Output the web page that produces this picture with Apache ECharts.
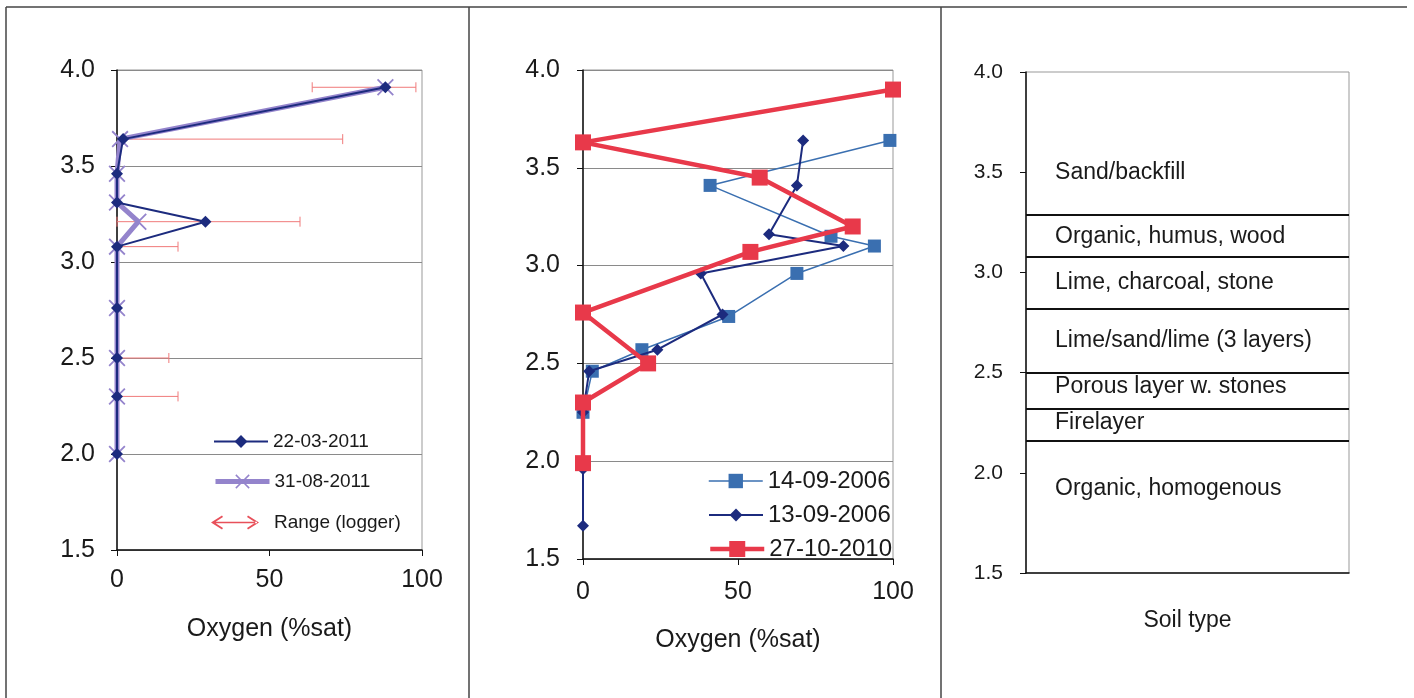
<!DOCTYPE html>
<html>
<head>
<meta charset="utf-8">
<script src="https://cdn.jsdelivr.net/npm/echarts@6/dist/echarts.min.js"></script>
<style>
  html, body { margin: 0; padding: 0; background: #fff; }
  #main { width: 1414px; height: 698px; }
</style>
</head>
<body>
<div id="main"></div>
<script type="text/javascript">
// left panel: [oxygen, depth]
var s22032011 = [[88, 3.91], [2, 3.64], [0, 3.46], [0, 3.31], [29, 3.21], [0, 3.08], [0, 2.76], [0, 2.50], [0, 2.30], [0, 2.00]];
var s31082011 = [[88, 3.91], [1, 3.64], [0, 3.46], [0, 3.31], [7, 3.21], [0, 3.08], [0, 2.76], [0, 2.50], [0, 2.30], [0, 2.00]];
// logger range: [low, high, depth]
var loggerRange = [[64, 98, 3.91], [2, 74, 3.64], [0, 60, 3.21], [0, 20, 3.08], [0, 17, 2.50], [0, 20, 2.30]];

// middle panel
var s14092006 = [[99, 3.64], [41, 3.41], [80, 3.15], [94, 3.10], [69, 2.96], [47, 2.74], [19, 2.57], [3, 2.46], [0, 2.25]];
var s13092006 = [[71, 3.64], [69, 3.41], [60, 3.16], [84, 3.10], [38, 2.96], [45, 2.75], [24, 2.57], [2, 2.46], [0, 2.25], [0, 1.96], [0, 1.67]];
var s27102010 = [[100, 3.90], [0, 3.63], [57, 3.45], [87, 3.20], [54, 3.07], [0, 2.76], [21, 2.50], [0, 2.30], [0, 1.99]];

// right panel: soil layers
var layerBounds = [3.29, 3.08, 2.82, 2.50, 2.32, 2.16];
var layerNames = ['Sand/backfill', 'Organic, humus, wood', 'Lime, charcoal, stone', 'Lime/sand/lime (3 layers)', 'Porous layer w. stones', 'Firelayer', 'Organic, homogenous'];
var layerLabelDepth = [3.50, 3.18, 2.95, 2.66, 2.43, 2.25, 1.92];

var FONT = 'Liberation Sans, Arial, sans-serif';
var TXT = '#1a1a1a';
var crossIcon = 'path://M0,1.5 L1.5,0 L10,8.5 L18.5,0 L20,1.5 L11.5,10 L20,18.5 L18.5,20 L10,11.5 L1.5,20 L0,18.5 L8.5,10 Z';
var arrowIcon = 'path://M0,7 L11,0 L12,1.6 L3.5,7 L12,12.4 L11,14 Z M2,6.3 L46,6.3 L46,7.7 L2,7.7 Z M48,7 L37,0 L36,1.6 L44.5,7 L36,12.4 L37,14 Z';

function yAx(idx, fs, margin) {
  return {
    gridIndex: idx, type: 'value', min: 1.5, max: 4, interval: 0.5,
    axisLine: { show: true, lineStyle: { color: '#111', width: 1.5 } },
    axisTick: { show: true, inside: false, length: 6, lineStyle: { color: '#111' } },
    axisLabel: { color: TXT, fontSize: fs, fontFamily: FONT, margin: margin, formatter: function (v) { return v.toFixed(1); } },
    splitLine: { show: idx < 2, lineStyle: { color: '#8a8a8a', width: 1 } }
  };
}
function xAx(idx, margin, nameGap) {
  return {
    gridIndex: idx, type: 'value', min: 0, max: 100, interval: 50,
    name: 'Oxygen (%sat)', nameLocation: 'middle', nameGap: nameGap,
    nameTextStyle: { color: TXT, fontSize: 25, fontFamily: FONT },
    axisLine: { show: true, onZero: false, lineStyle: { color: '#111', width: 1.5 } },
    axisTick: { show: true, length: 6, lineStyle: { color: '#111' } },
    axisLabel: { color: TXT, fontSize: 25, fontFamily: FONT, margin: margin },
    splitLine: { show: false }
  };
}
function leg(name, left, top, w, h, fs, lw) {
  return {
    data: [name], left: left, top: top, itemWidth: w, itemHeight: h,
    lineStyle: { width: lw },
    textStyle: { color: TXT, fontSize: fs, fontFamily: FONT }
  };
}

var myChart = echarts.init(document.getElementById('main'));
var option = {
  backgroundColor: '#fff',
  animation: false,
  grid: [
    { left: 117, top: 70, width: 305, height: 480, show: true, borderColor: '#999', borderWidth: 1, backgroundColor: 'transparent' },
    { left: 583, top: 70, width: 310, height: 489, show: true, borderColor: '#999', borderWidth: 1, backgroundColor: 'transparent' },
    { left: 1026, top: 72, width: 323, height: 501, show: true, borderColor: '#999', borderWidth: 1, backgroundColor: 'transparent' }
  ],
  xAxis: [
    xAx(0, 18, 67), xAx(1, 21, 69),
    {
      gridIndex: 2, type: 'value', min: 0, max: 1,
      name: 'Soil type', nameLocation: 'middle', nameGap: 36,
      nameTextStyle: { color: TXT, fontSize: 23, fontFamily: FONT },
      axisLine: { show: true, onZero: false, lineStyle: { color: '#111', width: 1.5 } },
      axisTick: { show: false }, axisLabel: { show: false }, splitLine: { show: false }
    }
  ],
  yAxis: [yAx(0, 25, 22), yAx(1, 25, 23), yAx(2, 21, 23)],
  legend: [
    leg('22-03-2011', 208, 427, 54, 16, 19, 2),
    leg('31-08-2011', 208, 467, 54, 18, 19, 5),
    { data: [{ name: 'Range (logger)', icon: arrowIcon }], left: 206, top: 508, itemWidth: 48, itemHeight: 14, itemStyle: { color: '#e8505a' }, textStyle: { color: TXT, fontSize: 19, fontFamily: FONT, padding: [0, 0, 0, 10] } },
    leg('14-09-2006', 703, 464, 54, 18, 24, 1.5),
    leg('13-09-2006', 703, 498, 54, 16, 24, 2),
    leg('27-10-2010', 703, 532, 54, 20, 24, 4.5)
  ],
  graphic: [
    { type: 'line', shape: { x1: 6, y1: 7, x2: 1407, y2: 7 }, style: { stroke: '#444', lineWidth: 1.5 } },
    { type: 'line', shape: { x1: 6, y1: 7, x2: 6, y2: 698 }, style: { stroke: '#444', lineWidth: 1.5 } },
    { type: 'line', shape: { x1: 469, y1: 7, x2: 469, y2: 698 }, style: { stroke: '#444', lineWidth: 1.5 } },
    { type: 'line', shape: { x1: 941, y1: 7, x2: 941, y2: 698 }, style: { stroke: '#444', lineWidth: 1.5 } }
  ],
  series: [
    {
      name: 'Range (logger)', type: 'custom', xAxisIndex: 0, yAxisIndex: 0,
      data: loggerRange, encode: { x: [0, 1], y: 2 },
      itemStyle: { color: '#e8505a' },
      renderItem: function (params, api) {
        var a = api.coord([api.value(0), api.value(2)]);
        var b = api.coord([api.value(1), api.value(2)]);
        var st = { stroke: '#f07a7a', lineWidth: 1 };
        return { type: 'group', children: [
          { type: 'line', shape: { x1: a[0], y1: a[1], x2: b[0], y2: b[1] }, style: st },
          { type: 'line', shape: { x1: a[0], y1: a[1] - 5, x2: a[0], y2: a[1] + 5 }, style: st },
          { type: 'line', shape: { x1: b[0], y1: b[1] - 5, x2: b[0], y2: b[1] + 5 }, style: st }
        ] };
      },
      z: 2
    },
    {
      name: '31-08-2011', type: 'line', xAxisIndex: 0, yAxisIndex: 0, data: s31082011,
      symbol: crossIcon, symbolSize: 17, showAllSymbol: true,
      lineStyle: { color: '#9484cc', width: 5 }, itemStyle: { color: '#9484cc' }, z: 3
    },
    {
      name: '22-03-2011', type: 'line', xAxisIndex: 0, yAxisIndex: 0, data: s22032011,
      symbol: 'diamond', symbolSize: 12, showAllSymbol: true,
      lineStyle: { color: '#1c2b7e', width: 2 }, itemStyle: { color: '#1c2b7e' }, z: 4
    },
    {
      name: '14-09-2006', type: 'line', xAxisIndex: 1, yAxisIndex: 1, data: s14092006,
      symbol: 'rect', symbolSize: 13, showAllSymbol: true,
      lineStyle: { color: '#3a6fb0', width: 1.5 }, itemStyle: { color: '#3a6fb0' }, z: 3
    },
    {
      name: '13-09-2006', type: 'line', xAxisIndex: 1, yAxisIndex: 1, data: s13092006,
      symbol: 'diamond', symbolSize: 12, showAllSymbol: true,
      lineStyle: { color: '#1c2b7e', width: 2 }, itemStyle: { color: '#1c2b7e' }, z: 4
    },
    {
      name: '27-10-2010', type: 'line', xAxisIndex: 1, yAxisIndex: 1, data: s27102010,
      symbol: 'rect', symbolSize: 16, showAllSymbol: true,
      lineStyle: { color: '#e8394a', width: 4.5 }, itemStyle: { color: '#e8394a' }, z: 5
    },
    {
      name: 'Soil layers', type: 'scatter', xAxisIndex: 2, yAxisIndex: 2,
      data: layerNames.map(function (n, i) { return [0.09, layerLabelDepth[i], n]; }),
      symbolSize: 0,
      itemStyle: { opacity: 1 },
      label: {
        show: true, position: 'right', distance: 0, color: TXT, opacity: 1, fontSize: 23, fontFamily: FONT,
        formatter: function (p) { return p.value[2]; }
      },
      markLine: {
        silent: true, symbol: 'none', label: { show: false },
        lineStyle: { color: '#111', width: 2, type: 'solid' },
        data: layerBounds.map(function (v) { return { yAxis: v }; })
      }
    }
  ]
};
myChart.setOption(option);
</script>
</body>
</html>
